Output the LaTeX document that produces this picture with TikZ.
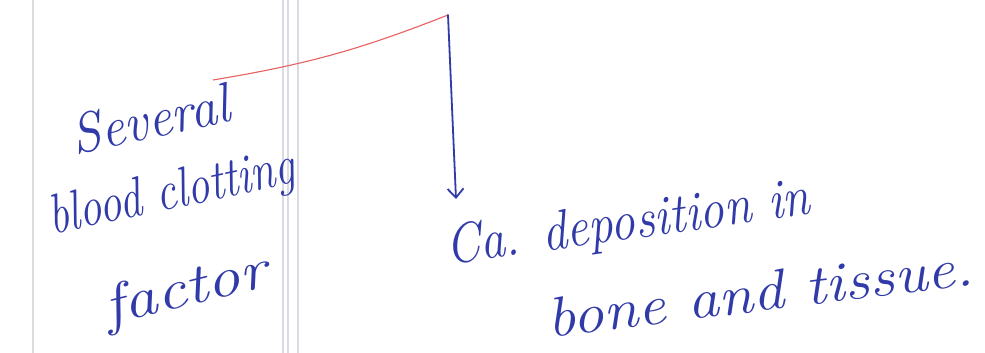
\documentclass[tikz,border=0pt]{standalone}
\usepackage{xcolor}
\usepackage{tikz}
\usetikzlibrary{arrows.meta,positioning,calc}
\definecolor{penblue}{RGB}{48,58,168}
\definecolor{penred}{RGB}{232,96,96}
\definecolor{rule}{RGB}{218,220,226}

\begin{document}
\begin{tikzpicture}[x=1pt, y=-1pt,
  note/.style={text=penblue, font=\fontsize{56}{60}\selectfont\itshape, inner sep=0pt},
  ink/.style={penblue, line width=1.8pt, line cap=round},
  margin/.style={rule, line width=1.2pt}]
\useasboundingbox (0,0) rectangle (985,353);
\fill[white] (0,0) rectangle (985,353);
% notebook margin lines
\foreach \mx in {33,283,288,298} \draw[margin] (\mx,0) -- (\mx,353);
% left label
\node[note, rotate=12, xscale=0.95] (several) at (150,119) {Several};
\node[note, rotate=12, xscale=0.8] (blood) at (172,195) {blood clotting};
\node[note, rotate=14, xscale=1.2] (factor) at (186,292) {factor};
% right label
\node[note, rotate=8, xscale=0.88] (ca) at (628,225) {Ca. deposition in};
\node[note, rotate=7, xscale=1.12] (bone) at (760,292) {bone and tissue.};
% red link and arrow down
\coordinate (redstart) at (213,80);
\coordinate (turn) at (448,15);
\coordinate (catop) at (456,199);
\draw[penred, line width=1.1pt] (redstart) to[bend right=6] (turn);
\draw[ink, -{Straight Barb[length=9pt, width=16pt]}] (turn) -- (catop);
\end{tikzpicture}
\end{document}
